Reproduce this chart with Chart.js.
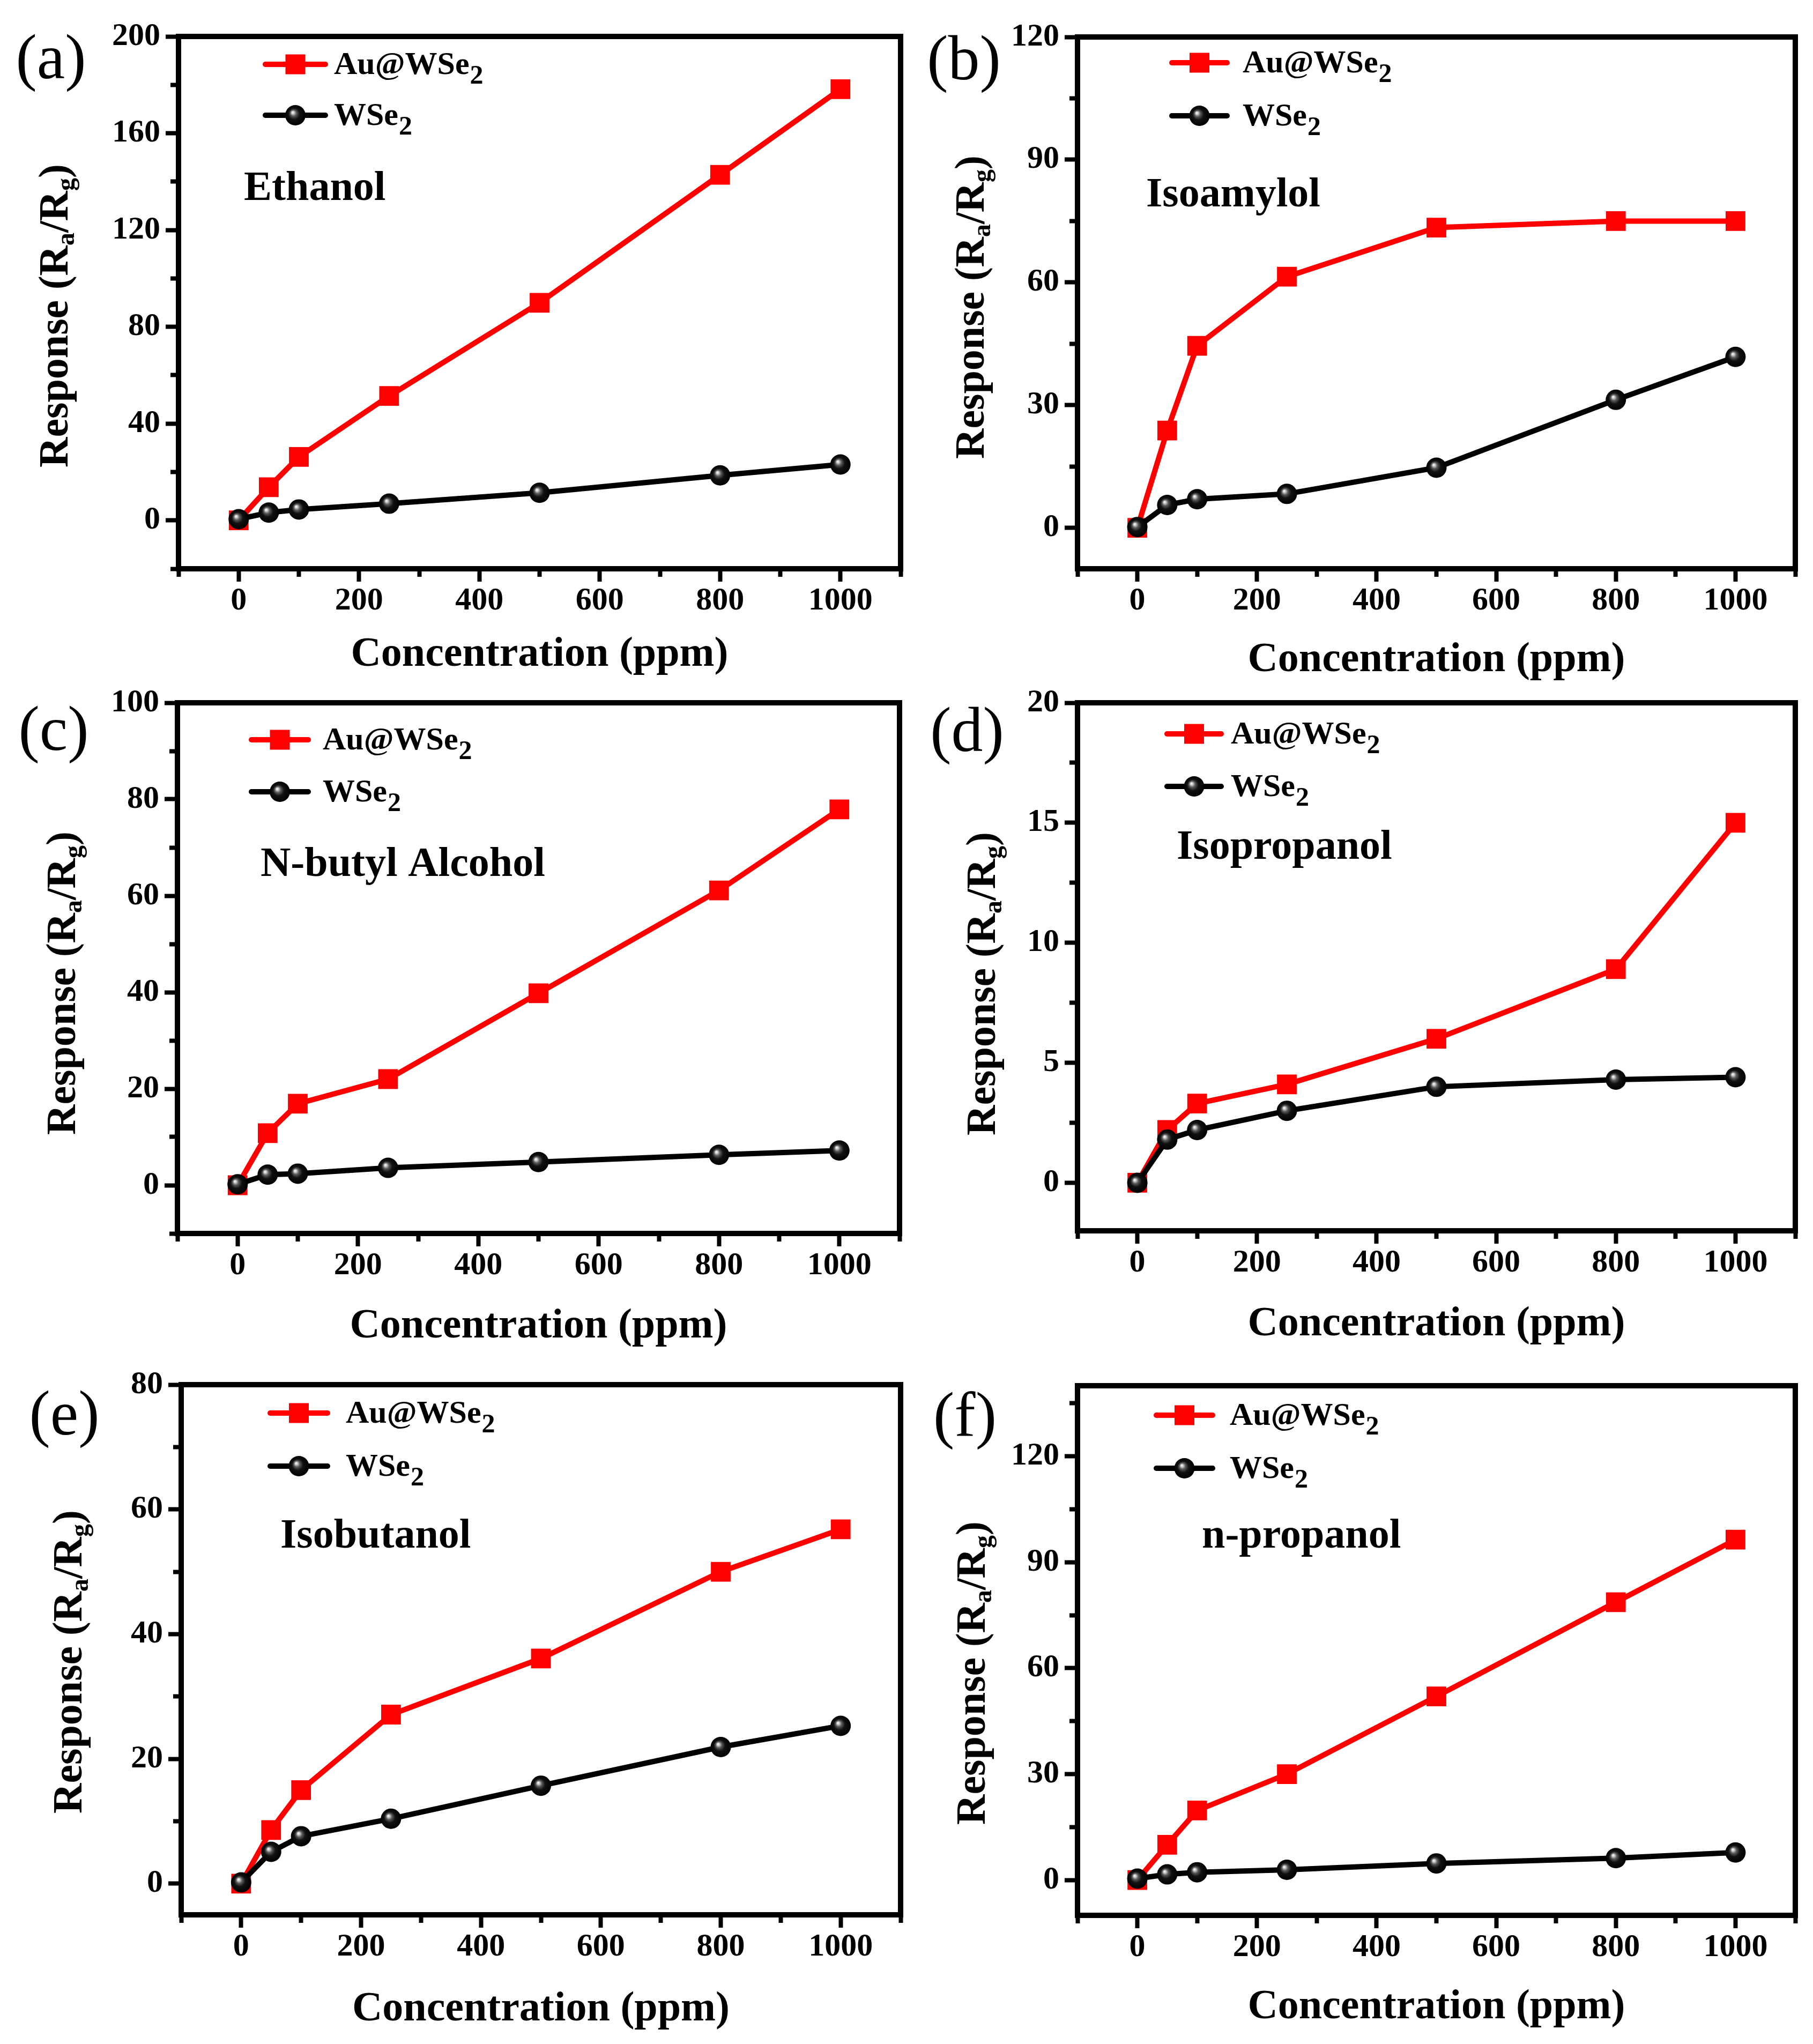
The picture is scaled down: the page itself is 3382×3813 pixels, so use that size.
<!DOCTYPE html>
<html>
<head>
<meta charset="utf-8">
<script src="https://cdn.jsdelivr.net/npm/chart.js@4.4.0/dist/chart.umd.min.js"></script>
<style>
  html, body { margin: 0; padding: 0; background: #fff; }
  body { width: 3382px; height: 3813px; position: relative; overflow: hidden; }
  canvas { position: absolute; }
</style>
</head>
<body>
<script>
"use strict";

// concentration (ppm) shared by every panel
const concentration = [0, 50, 100, 250, 500, 800, 1000];

// response (Ra/Rg)
const ethanolAu = [0, 13.7, 26.2, 51.4, 89.9, 142.8, 178.2];
const ethanolWse2 = [0.5, 3.2, 4.5, 6.9, 11.4, 18.6, 23.1];
const isoamylolAu = [0, 23.8, 44.5, 61.4, 73.4, 75.0, 75.0];
const isoamylolWse2 = [0.2, 5.6, 7.0, 8.3, 14.7, 31.3, 41.8];
const butylAu = [0, 10.8, 16.9, 22.0, 39.8, 61.1, 77.9];
const butylWse2 = [0.2, 2.2, 2.4, 3.6, 4.8, 6.3, 7.2];
const isopropanolAu = [0, 2.2, 3.3, 4.1, 6.0, 8.9, 15.0];
const isopropanolWse2 = [0, 1.8, 2.2, 3.0, 4.0, 4.3, 4.4];
const isobutanolAu = [0, 8.6, 15.0, 27.1, 36.1, 50.0, 56.8];
const isobutanolWse2 = [0.2, 5.1, 7.6, 10.4, 15.7, 21.9, 25.3];
const propanolAu = [0, 10.0, 19.7, 30.0, 52.0, 78.7, 96.4];
const propanolWse2 = [0.4, 1.6, 2.2, 2.9, 4.7, 6.2, 7.8];

const seriesNames = ['Au@WSe2', 'WSe2'];
const gasNames = ['Ethanol', 'Isoamylol', 'N-butyl Alcohol', 'Isopropanol', 'Isobutanol', 'n-propanol'];
const panelLetters = ['(a)', '(b)', '(c)', '(d)', '(e)', '(f)'];

// x axis: -100..1100, tick every 100, label every 200
const xRange = [-100, 1100];
const xMinorStep = 100;
const xMajorStep = 200;
const xLabelMax = 1000;

// y axis per panel: [min, max, minor step, major step, last labelled value]
const yAxes = [
  [-20, 200, 20, 40, 200],
  [-10, 120, 15, 30, 120],
  [-10, 100, 10, 20, 100],
  [-2, 20, 2.5, 5, 20],
  [-5, 80, 10, 20, 80],
  [-10, 140, 15, 30, 120],
];

const seriesData = [
  [ethanolAu, ethanolWse2],
  [isoamylolAu, isoamylolWse2],
  [butylAu, butylWse2],
  [isopropanolAu, isopropanolWse2],
  [isobutanolAu, isobutanolWse2],
  [propanolAu, propanolWse2],
];

// page layout, absolute px: canvas box, plot frame, and text anchors
const layouts = [
  { box: [0, 0, 1691, 1271], plot: [333, 68, 1680, 1061], letterAt: [95, 116], gasAt: [455, 347], yTitleAt: [100, 589],
    legend: { x1: 490, x2: 612, tx: 623, rows: [120, 215] } },
  { box: [1691, 0, 1691, 1281], plot: [2010, 69, 3349, 1061], letterAt: [1798, 118], gasAt: [2138, 359], yTitleAt: [1809, 573],
    legend: { x1: 2181, x2: 2294, tx: 2318, rows: [117, 216] } },
  { box: [0, 1271, 1691, 1253], plot: [331, 1310, 1678, 2301], letterAt: [100, 1369], gasAt: [486, 1608], yTitleAt: [114, 1834],
    legend: { x1: 464, x2: 580, tx: 602, rows: [1380, 1477] } },
  { box: [1691, 1271, 1691, 1249], plot: [2010, 1310, 3349, 2296], letterAt: [1804, 1371], gasAt: [2195, 1576], yTitleAt: [1830, 1835],
    legend: { x1: 2172, x2: 2283, tx: 2296, rows: [1369, 1467] } },
  { box: [0, 2542, 1691, 1256], plot: [338, 2583, 1680, 3572], letterAt: [120, 2646], gasAt: [523, 2861], yTitleAt: [126, 3100],
    legend: { x1: 499, x2: 616, tx: 645, rows: [2636, 2735] } },
  { box: [1691, 2542, 1691, 1252], plot: [2010, 2585, 3349, 3573], letterAt: [1800, 2649], gasAt: [2242, 2861], yTitleAt: [1811, 3121],
    legend: { x1: 2152, x2: 2267, tx: 2294, rows: [2640, 2739] } },
];

const FONT = '"Liberation Serif", "Times New Roman", serif';
const RED = '#ff0000';
const SQUARE_R = 26;
const SPHERE_R = 19;

Chart.defaults.font.family = FONT;
Chart.defaults.font.weight = 'bold';
Chart.defaults.color = '#000';

function isMultiple(v, step) {
  const q = v / step;
  return Math.abs(q - Math.round(q)) < 1e-6;
}

function stepTicks(min, max, step) {
  const out = [];
  for (let v = Math.ceil(min / step - 1e-9) * step; v <= max + 1e-9; v += step) {
    out.push({ value: Math.round(v * 1000) / 1000 });
  }
  return out;
}

function sphereFill(ctx, x, y, r) {
  if (!isFinite(x) || !isFinite(y)) return '#000';
  const g = ctx.createRadialGradient(x - r * 0.28, y - r * 0.3, 0, x, y, r);
  g.addColorStop(0, '#ffffff');
  g.addColorStop(0.12, '#d0d0d0');
  g.addColorStop(0.3, '#5a5a5a');
  g.addColorStop(0.55, '#111111');
  g.addColorStop(1, '#000000');
  return g;
}

const framePlugin = {
  id: 'frame',
  afterDatasetsDraw(chart) {
    const a = chart.chartArea, ctx = chart.ctx;
    ctx.save();
    ctx.strokeStyle = '#000';
    ctx.lineWidth = 10;
    ctx.lineJoin = 'miter';
    ctx.strokeRect(a.left, a.top, a.right - a.left, a.bottom - a.top);
    ctx.restore();
  }
};

// text with a trailing subscript digit, e.g. WSe2
function drawSubText(ctx, name, x, baseline, size, subSize, drop) {
  const main = name.slice(0, -1), sub = name.slice(-1);
  ctx.font = `bold ${size}px ${FONT}`;
  ctx.fillText(main, x, baseline);
  const w = ctx.measureText(main).width;
  ctx.font = `bold ${subSize}px ${FONT}`;
  ctx.fillText(sub, x + w + 1, baseline + drop);
}

function makeDecor(idx) {
  const L = layouts[idx];
  const [cx, cy] = L.box;
  return {
    id: 'decor',
    afterDraw(chart) {
      const ctx = chart.ctx;
      ctx.save();
      ctx.translate(-cx, -cy);
      ctx.fillStyle = '#000';
      ctx.textBaseline = 'alphabetic';

      // panel letter
      ctx.font = `normal 118px ${FONT}`;
      ctx.textAlign = 'center';
      ctx.fillText(panelLetters[idx], L.letterAt[0], L.letterAt[1] + 30);

      // gas name
      ctx.font = `bold 78px ${FONT}`;
      ctx.textAlign = 'left';
      ctx.fillText(gasNames[idx], L.gasAt[0], L.gasAt[1] + 26);

      // legend
      const lg = L.legend;
      seriesNames.forEach((name, i) => {
        const y = lg.rows[i];
        const mx = (lg.x1 + lg.x2) / 2;
        ctx.strokeStyle = i === 0 ? RED : '#000';
        ctx.lineWidth = 10;
        ctx.lineCap = 'round';
        ctx.beginPath();
        ctx.moveTo(lg.x1 + 5, y);
        ctx.lineTo(lg.x2 - 5, y);
        ctx.stroke();
        if (i === 0) {
          ctx.fillStyle = RED;
          ctx.fillRect(mx - 18.5, y - 18.5, 37, 37);
        } else {
          ctx.fillStyle = sphereFill(ctx, mx, y, SPHERE_R);
          ctx.beginPath();
          ctx.arc(mx, y, SPHERE_R, 0, Math.PI * 2);
          ctx.fill();
        }
        ctx.fillStyle = '#000';
        ctx.textAlign = 'left';
        drawSubText(ctx, name, lg.tx, y + 18, 60, 50, 18);
      });

      // y axis title: Response (Ra/Rg)
      const size = 78, sub = 48;
      const pieces = [['Response (R', size], ['a', sub], ['/R', size], ['g', sub], [')', size]];
      let total = 0;
      pieces.forEach(([t, s]) => { ctx.font = `bold ${s}px ${FONT}`; total += ctx.measureText(t).width; });
      ctx.translate(L.yTitleAt[0], L.yTitleAt[1]);
      ctx.rotate(-Math.PI / 2);
      let x = -total / 2;
      pieces.forEach(([t, s]) => {
        ctx.font = `bold ${s}px ${FONT}`;
        ctx.fillText(t, x, s === size ? 26 : 38);
        x += ctx.measureText(t).width;
      });
      ctx.restore();
    }
  };
}

function buildPanel(idx) {
  const L = layouts[idx];
  const [cx, cy, cw, ch] = L.box;
  const [pl, pt, pr, pb] = L.plot;
  const [yMin, yMax, yMinor, yMajor, yLabelMax] = yAxes[idx];
  const [au, wse] = seriesData[idx];

  const canvas = document.createElement('canvas');
  canvas.width = cw;
  canvas.height = ch;
  canvas.style.left = cx + 'px';
  canvas.style.top = cy + 'px';
  canvas.style.width = cw + 'px';
  canvas.style.height = ch + 'px';
  document.body.appendChild(canvas);

  const points = (arr) => concentration.map((x, i) => ({ x: x, y: arr[i] }));

  new Chart(canvas, {
    type: 'line',
    data: {
      datasets: [
        {
          label: 'Au@WSe\u2082', data: points(au), order: 1,
          borderColor: RED, borderWidth: 10, tension: 0,
          pointStyle: 'rect', pointRadius: SQUARE_R, pointBorderWidth: 0,
          pointBackgroundColor: RED
        },
        {
          label: 'WSe\u2082', data: points(wse), order: 0,
          borderColor: '#000', borderWidth: 10, tension: 0,
          pointStyle: 'circle', pointRadius: SPHERE_R, pointBorderWidth: 0,
          pointBackgroundColor: (c) => {
            const xs = c.chart.scales.x, ys = c.chart.scales.y;
            if (!c.raw || !xs || !ys) return '#000';
            return sphereFill(c.chart.ctx, xs.getPixelForValue(c.raw.x), ys.getPixelForValue(c.raw.y), SPHERE_R);
          }
        }
      ]
    },
    options: {
      responsive: false,
      animation: false,
      events: [],
      layout: { autoPadding: false, padding: { top: pt - cy, right: cx + cw - pr, left: 0, bottom: 0 } },
      plugins: { legend: { display: false }, tooltip: { enabled: false } },
      scales: {
        x: {
          type: 'linear', min: xRange[0], max: xRange[1],
          afterBuildTicks: (s) => { s.ticks = stepTicks(xRange[0], xRange[1], xMinorStep); },
          afterFit: (s) => { s.height = cy + ch - pb; },
          border: { display: false },
          grid: {
            drawOnChartArea: false, drawTicks: true, tickLength: 24, tickWidth: 8, tickColor: '#000',
            tickBorderDash: (c) => (c.tick && !isMultiple(c.tick.value, xMajorStep)) ? [15, 100] : []
          },
          ticks: {
            autoSkip: false, maxRotation: 0, minRotation: 0, padding: 6, color: '#000',
            font: { size: 60, weight: 'bold', lineHeight: 1 },
            callback: (v) => (v >= 0 && v <= xLabelMax && isMultiple(v, xMajorStep)) ? String(v) : ''
          },
          title: {
            display: true, text: 'Concentration (ppm)', color: '#000',
            font: { size: 78, weight: 'bold', lineHeight: 1 }, padding: { top: 0, bottom: 10 }
          }
        },
        y: {
          type: 'linear', min: yMin, max: yMax,
          afterBuildTicks: (s) => { s.ticks = stepTicks(yMin, yMax, yMinor); },
          afterFit: (s) => { s.width = pl - cx; },
          border: { display: false },
          grid: {
            drawOnChartArea: false, drawTicks: true, tickLength: 24, tickWidth: 8, tickColor: '#000',
            tickBorderDash: (c) => (c.tick && !isMultiple(c.tick.value, yMajor)) ? [0, 9, 15, 100] : []
          },
          ticks: {
            autoSkip: false, padding: 10, color: '#000',
            font: { size: 60, weight: 'bold', lineHeight: 1 },
            callback: (v) => (v >= 0 && v <= yLabelMax && isMultiple(v, yMajor)) ? String(Math.abs(v)) : ''
          },
          title: { display: false }
        }
      }
    },
    plugins: [framePlugin, makeDecor(idx)]
  });
}

layouts.forEach((_, i) => buildPanel(i));
</script>
</body>
</html>
